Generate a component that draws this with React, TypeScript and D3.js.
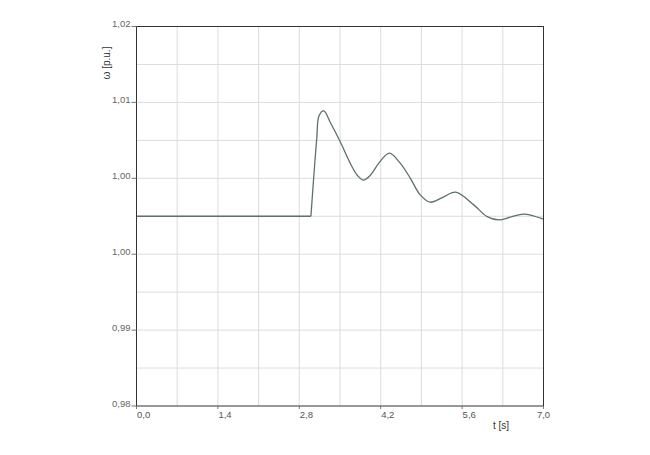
import React from "react";
import * as d3 from "d3";

const tValues = [0, 3.0, 3.1, 3.14, 3.22, 3.34, 3.5, 3.7, 3.8, 3.9, 4.02, 4.18, 4.35, 4.535, 4.71, 4.88, 5.05, 5.27, 5.49, 5.8, 6.03, 6.23, 6.43, 6.66, 7.0];
const omegaValues = [1.0, 1.0, 1.0082, 1.0106, 1.0111, 1.0098, 1.0079, 1.0053, 1.0043, 1.0038, 1.0043, 1.0057, 1.00665, 1.0056, 1.004, 1.00225, 1.00148, 1.002, 1.00254, 1.0012, 0.99996, 0.99962, 0.9999, 1.00022, 0.99969];

const xTicks = [0, 1.4, 2.8, 4.2, 5.6, 7.0];
const xGrid = [0.7, 1.4, 2.1, 2.8, 3.5, 4.2, 4.9, 5.6, 6.3];
const yTicks = [0.98, 0.988, 0.996, 1.004, 1.012, 1.02];
const yGrid = [0.984, 0.988, 0.992, 0.996, 1.0, 1.004, 1.008, 1.012, 1.016];

const W = 650, H = 455;
const left = 136.5, right = 543.5, top = 26.5, bottom = 406;

export default function App() {
  const x = d3.scaleLinear().domain([0, 7]).range([left, right]);
  const y = d3.scaleLinear().domain([0.98, 1.02]).range([bottom, top]);
  const fmt = (v: number, d: number) => v.toFixed(d).replace(".", ",");
  const pts = tValues.map((t, i) => [t, omegaValues[i]] as [number, number]);
  const flat = pts.slice(0, 2);
  const dyn = pts.slice(1);
  const linear = d3.line<[number, number]>().x(d => x(d[0])).y(d => y(d[1]));
  const smooth = d3.line<[number, number]>().x(d => x(d[0])).y(d => y(d[1])).curve(d3.curveCatmullRom.alpha(0.5));
  const font = "'Liberation Sans', Arial, sans-serif";
  return (
    <svg width={W} height={H} style={{ position: "absolute", left: 0, top: 0, background: "#fff" }}>
      <rect x={0} y={0} width={W} height={H} fill="#fff" />
      {xGrid.map(v => (
        <line key={"xg" + v} x1={x(v)} x2={x(v)} y1={top} y2={bottom} stroke="#dcdcdc" strokeWidth={1} />
      ))}
      {yGrid.map(v => (
        <line key={"yg" + v} x1={left} x2={right} y1={y(v)} y2={y(v)} stroke="#dcdcdc" strokeWidth={1} />
      ))}
      <path d={linear(flat) || ""} fill="none" stroke="#5e6f6f" strokeWidth={1.3} />
      <path d={smooth(dyn) || ""} fill="none" stroke="#5e6f6f" strokeWidth={1.3} />
      <rect x={left} y={top} width={right - left} height={bottom - top} fill="none" stroke="#333" strokeWidth={1} />
      {yTicks.map(v => (
        <g key={"yt" + v}>
          <line x1={left - 5} x2={left} y1={y(v)} y2={y(v)} stroke="#777" />
          <text x={130.5} y={y(v) + 0.5} textAnchor="end" fontSize={9.5} fontFamily={font} fill="#666">{fmt(v, 2)}</text>
        </g>
      ))}
      {xTicks.map((v, i) => (
        <g key={"xt" + v}>
          <line x1={x(v)} x2={x(v)} y1={bottom} y2={bottom + 3} stroke="#777" />
          <text x={i === xTicks.length - 1 ? x(v) : x(v) + 0.5} y={418} textAnchor={i === xTicks.length - 1 ? "middle" : "start"} fontSize={9.5} fontFamily={font} fill="#555">{fmt(v, 1)}</text>
        </g>
      ))}
      <text x={501} y={429} textAnchor="middle" fontSize={10} fontFamily={font} fill="#333">t [s]</text>
      <text transform="translate(110,63) rotate(-90)" textAnchor="middle" fontSize={10} fontFamily={font} fill="#333">ω [p.u.]</text>
    </svg>
  );
}
